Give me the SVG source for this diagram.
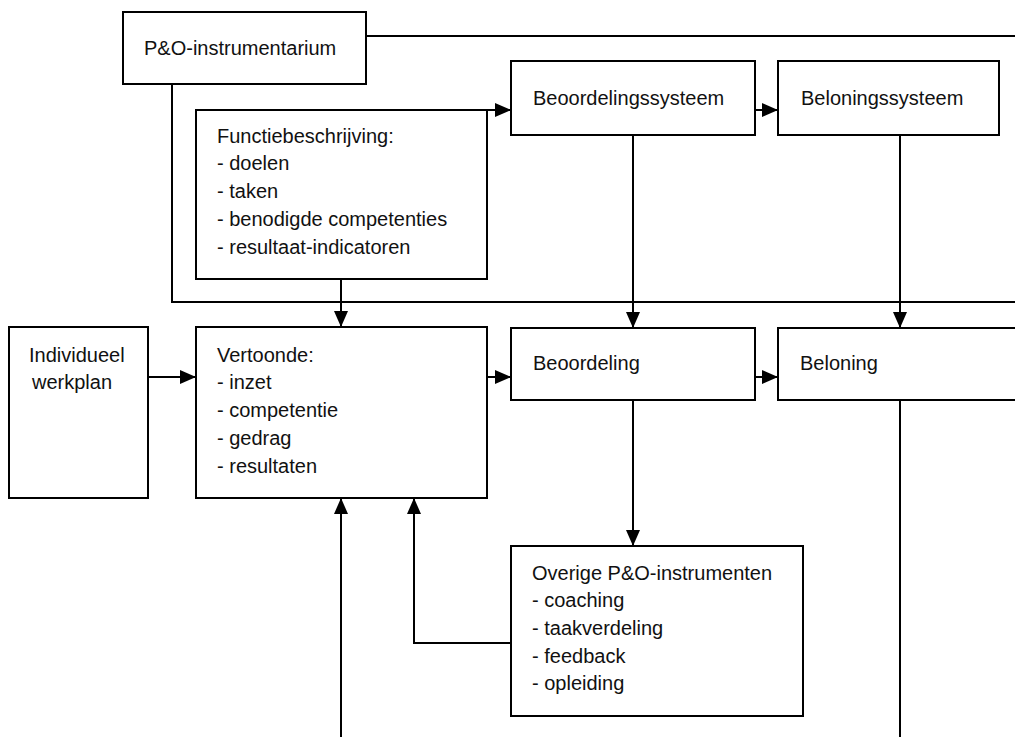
<svg xmlns="http://www.w3.org/2000/svg" width="1015" height="737" viewBox="0 0 1015 737">
<style>
.box{fill:#fff;stroke:#000;stroke-width:2}
.t{font-family:"Liberation Sans",Arial,sans-serif;font-size:20px;fill:#111}
.c{fill:none;stroke:#000;stroke-width:2}
</style>
<defs>
<marker id="ah" markerUnits="userSpaceOnUse" markerWidth="16" markerHeight="14" viewBox="0 0 16 14" refX="16" refY="7" orient="auto">
<path d="M0,0 L16,7 L0,14 Z" fill="#000"/>
</marker>
</defs>
<rect width="1015" height="737" fill="#fff"/>
<g id="connectors">
<path class="c" d="M366,36 H1015"/>
<path class="c" d="M172,84 V302 H1015"/>
<path class="c" d="M487,110 H511" marker-end="url(#ah)"/>
<path class="c" d="M755,110 H778" marker-end="url(#ah)"/>
<path class="c" d="M633,135 V328" marker-end="url(#ah)"/>
<path class="c" d="M900,135 V328" marker-end="url(#ah)"/>
<path class="c" d="M341,279 V327" marker-end="url(#ah)"/>
<path class="c" d="M148,377 H196" marker-end="url(#ah)"/>
<path class="c" d="M487,377 H511" marker-end="url(#ah)"/>
<path class="c" d="M755,377 H778" marker-end="url(#ah)"/>
<path class="c" d="M633,400 V546" marker-end="url(#ah)"/>
<path class="c" d="M511,643 H414 V498" marker-end="url(#ah)"/>
<path class="c" d="M341,737 V498" marker-end="url(#ah)"/>
<path class="c" d="M900,400 V737"/>
</g>
<g id="po">
<rect class="box" x="123" y="12" width="243" height="72"/>
<text class="t" x="144" y="55">P&amp;O-instrumentarium</text>
</g>
<g id="functie">
<rect class="box" x="196" y="110" width="291" height="169"/>
<text class="t" x="217" y="143">Functiebeschrijving:</text>
<text class="t" x="217" y="170">- doelen</text>
<text class="t" x="217" y="197.5">- taken</text>
<text class="t" x="217" y="225.5">- benodigde competenties</text>
<text class="t" x="217" y="253.5">- resultaat-indicatoren</text>
</g>
<g id="beoordelingssysteem">
<rect class="box" x="511" y="61" width="244" height="74"/>
<text class="t" x="533" y="105">Beoordelingssysteem</text>
</g>
<g id="beloningssysteem">
<rect class="box" x="778" y="61" width="221" height="74"/>
<text class="t" x="801" y="105">Beloningssysteem</text>
</g>
<g id="werkplan">
<rect class="box" x="9" y="327" width="139" height="171"/>
<text class="t" x="29" y="362">Individueel</text>
<text class="t" x="32" y="389">werkplan</text>
</g>
<g id="vertoonde">
<rect class="box" x="196" y="327" width="291" height="171"/>
<text class="t" x="217" y="361.5">Vertoonde:</text>
<text class="t" x="217" y="389">- inzet</text>
<text class="t" x="217" y="417">- competentie</text>
<text class="t" x="217" y="444.5">- gedrag</text>
<text class="t" x="217" y="472.5">- resultaten</text>
</g>
<g id="beoordeling">
<rect class="box" x="511" y="328" width="244" height="72"/>
<text class="t" x="533" y="370">Beoordeling</text>
</g>
<g id="beloning">
<rect class="box" x="778" y="328" width="260" height="72"/>
<text class="t" x="800" y="370">Beloning</text>
</g>
<g id="overige">
<rect class="box" x="511" y="546" width="292" height="170"/>
<text class="t" x="532" y="579.5">Overige P&amp;O-instrumenten</text>
<text class="t" x="532" y="607">- coaching</text>
<text class="t" x="532" y="634.5">- taakverdeling</text>
<text class="t" x="532" y="662.5">- feedback</text>
<text class="t" x="532" y="690">- opleiding</text>
</g>
</svg>
